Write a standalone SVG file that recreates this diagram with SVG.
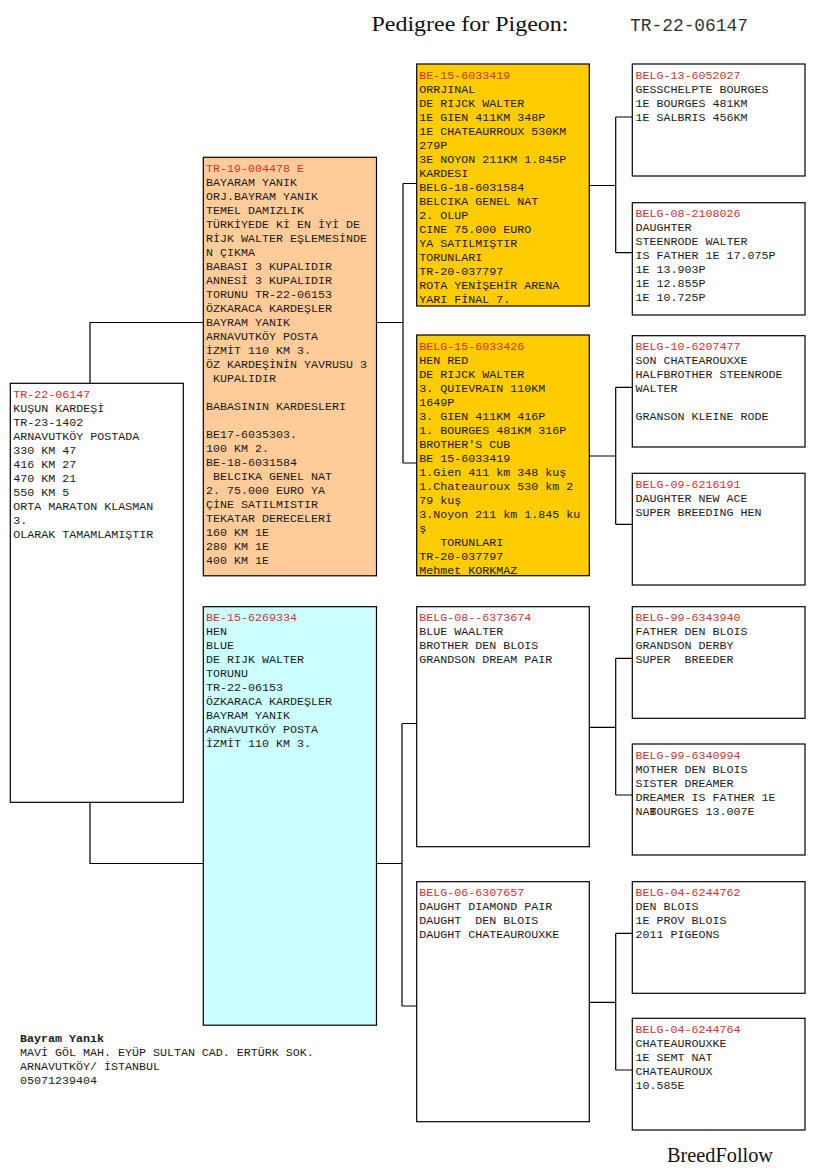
<svg xmlns="http://www.w3.org/2000/svg" width="825" height="1172" viewBox="0 0 825 1172">
<style>
.box{stroke:#000;stroke-width:1.2;}
.w{fill:#fff}.o{fill:#FFCC99}.g{fill:#FFCC00}.c{fill:#CCFFFF}
text.t{font-family:"Liberation Mono","Courier New",monospace;font-size:11.67px;fill:#1a1a1a;white-space:pre}
.id{fill:#CC3333}
.ln{fill:none;stroke:#000;stroke-width:1.2}
.serif{font-family:"Liberation Serif","Times New Roman",serif;fill:#111}
</style>
<rect width="825" height="1172" fill="#fff"/>
<text class="serif" x="371.5" y="31" font-size="22" textLength="197" lengthAdjust="spacingAndGlyphs">Pedigree for Pigeon:</text>
<text x="630" y="31" font-family="Liberation Mono, Courier New, monospace" font-size="18" fill="#333" textLength="118" lengthAdjust="spacingAndGlyphs">TR-22-06147</text>

<g id="connectors">
<path class="ln" d="M90,383V322.5H203.5M90,802V863.5H203.5"/>
<path class="ln" d="M376.5,322.5H403M403,183.5V463M403,183.5H416.7M403,463H416.7"/>
<path class="ln" d="M376.5,863.5H402M402,723.5V1006M402,723.5H416.7M402,1006H416.7"/>
<path class="ln" d="M589.3,185.5H615.7M615.7,117V252.7M615.7,117H632.3M615.7,252.7H632.3"/>
<path class="ln" d="M589.3,456H615.7M615.7,387.3V524.3M615.7,387.3H632.3M615.7,524.3H632.3"/>
<path class="ln" d="M589.3,727.3H615.7M615.7,658.3V795M615.7,658.3H632.3M615.7,795H632.3"/>
<path class="ln" d="M589.3,1002.3H615.7M615.7,933.3V1070M615.7,933.3H632.3M615.7,1070H632.3"/>
</g>

<g id="n1">
<rect class="box w" x="10.3" y="383.3" width="173" height="419"/>
<text class="t" x="13.3" y="398"><tspan class="id">TR-22-06147</tspan><tspan x="13.3" dy="14">KUŞUN KARDEŞİ</tspan><tspan x="13.3" dy="14">TR-23-1402</tspan><tspan x="13.3" dy="14">ARNAVUTKÖY POSTADA</tspan><tspan x="13.3" dy="14">330 KM 47</tspan><tspan x="13.3" dy="14">416 KM 27</tspan><tspan x="13.3" dy="14">470 KM 21</tspan><tspan x="13.3" dy="14">550 KM 5</tspan><tspan x="13.3" dy="14">ORTA MARATON KLASMAN</tspan><tspan x="13.3" dy="14">3.</tspan><tspan x="13.3" dy="14">OLARAK TAMAMLAMIŞTIR</tspan></text>
</g>

<g id="n2">
<rect class="box o" x="203.3" y="157.3" width="173.2" height="418.5"/>
<text class="t" x="206" y="171.5"><tspan class="id">TR-19-004478 E</tspan><tspan x="206" dy="14">BAYARAM YANIK</tspan><tspan x="206" dy="14">ORJ.BAYRAM YANIK</tspan><tspan x="206" dy="14">TEMEL DAMIZLIK</tspan><tspan x="206" dy="14">TÜRKİYEDE Kİ EN İYİ DE</tspan><tspan x="206" dy="14">RİJK WALTER EŞLEMESİNDE</tspan><tspan x="206" dy="14">N ÇIKMA</tspan><tspan x="206" dy="14">BABASI 3 KUPALIDIR</tspan><tspan x="206" dy="14">ANNESİ 3 KUPALIDIR</tspan><tspan x="206" dy="14">TORUNU TR-22-06153</tspan><tspan x="206" dy="14">ÖZKARACA KARDEŞLER</tspan><tspan x="206" dy="14">BAYRAM YANIK</tspan><tspan x="206" dy="14">ARNAVUTKÖY POSTA</tspan><tspan x="206" dy="14">İZMİT 110 KM 3.</tspan><tspan x="206" dy="14">ÖZ KARDEŞİNİN YAVRUSU 3</tspan><tspan x="206" dy="14"> KUPALIDIR</tspan><tspan x="206" dy="28">BABASININ KARDESLERI</tspan><tspan x="206" dy="28">BE17-6035303.</tspan><tspan x="206" dy="14">100 KM 2.</tspan><tspan x="206" dy="14">BE-18-6031584</tspan><tspan x="206" dy="14"> BELCIKA GENEL NAT</tspan><tspan x="206" dy="14">2. 75.000 EURO YA</tspan><tspan x="206" dy="14">ÇİNE SATILMISTIR</tspan><tspan x="206" dy="14">TEKATAR DERECELERİ</tspan><tspan x="206" dy="14">160 KM 1E</tspan><tspan x="206" dy="14">280 KM 1E</tspan><tspan x="206" dy="14">400 KM 1E</tspan></text>
</g>

<g id="n3">
<rect class="box c" x="203.3" y="606.7" width="173.2" height="418.5"/>
<text class="t" x="206" y="621"><tspan class="id">BE-15-6269334</tspan><tspan x="206" dy="14">HEN</tspan><tspan x="206" dy="14">BLUE</tspan><tspan x="206" dy="14">DE RIJK WALTER</tspan><tspan x="206" dy="14">TORUNU</tspan><tspan x="206" dy="14">TR-22-06153</tspan><tspan x="206" dy="14">ÖZKARACA KARDEŞLER</tspan><tspan x="206" dy="14">BAYRAM YANIK</tspan><tspan x="206" dy="14">ARNAVUTKÖY POSTA</tspan><tspan x="206" dy="14">İZMİT 110 KM 3.</tspan></text>
</g>

<g id="n4">
<rect class="box g" x="416.7" y="64" width="172.6" height="242"/>
<text class="t" x="419.3" y="78.5"><tspan class="id">BE-15-6033419</tspan><tspan x="419.3" dy="14">ORRJINAL</tspan><tspan x="419.3" dy="14">DE RIJCK WALTER</tspan><tspan x="419.3" dy="14">1E GIEN 411KM 348P</tspan><tspan x="419.3" dy="14">1E CHATEAURROUX 530KM</tspan><tspan x="419.3" dy="14">279P</tspan><tspan x="419.3" dy="14">3E NOYON 211KM 1.845P</tspan><tspan x="419.3" dy="14">KARDESI</tspan><tspan x="419.3" dy="14">BELG-18-6031584</tspan><tspan x="419.3" dy="14">BELCIKA GENEL NAT</tspan><tspan x="419.3" dy="14">2. OLUP</tspan><tspan x="419.3" dy="14">CINE 75.000 EURO</tspan><tspan x="419.3" dy="14">YA SATILMIŞTIR</tspan><tspan x="419.3" dy="14">TORUNLARI</tspan><tspan x="419.3" dy="14">TR-20-037797</tspan><tspan x="419.3" dy="14">ROTA YENİŞEHİR ARENA</tspan><tspan x="419.3" dy="14">YARI FİNAL 7.</tspan></text>
</g>

<g id="n5">
<rect class="box g" x="416.7" y="335" width="172.6" height="240.7"/>
<text class="t" x="419.3" y="349.5"><tspan class="id">BELG-15-6033426</tspan><tspan x="419.3" dy="14">HEN RED</tspan><tspan x="419.3" dy="14">DE RIJCK WALTER</tspan><tspan x="419.3" dy="14">3. QUIEVRAIN 110KM</tspan><tspan x="419.3" dy="14">1649P</tspan><tspan x="419.3" dy="14">3. GIEN 411KM 416P</tspan><tspan x="419.3" dy="14">1. BOURGES 481KM 316P</tspan><tspan x="419.3" dy="14">BROTHER'S CUB</tspan><tspan x="419.3" dy="14">BE 15-6033419</tspan><tspan x="419.3" dy="14">1.Gien 411 km 348 kuş</tspan><tspan x="419.3" dy="14">1.Chateauroux 530 km 2</tspan><tspan x="419.3" dy="14">79 kuş</tspan><tspan x="419.3" dy="14">3.Noyon 211 km 1.845 ku</tspan><tspan x="419.3" dy="14">ş</tspan><tspan x="419.3" dy="14">   TORUNLARI</tspan><tspan x="419.3" dy="14">TR-20-037797</tspan><tspan x="419.3" dy="14">Mehmet KORKMAZ</tspan></text>
</g>

<g id="n6">
<rect class="box w" x="416.7" y="606.7" width="172.6" height="240"/>
<text class="t" x="419.3" y="621"><tspan class="id">BELG-08--6373674</tspan><tspan x="419.3" dy="14">BLUE WAALTER</tspan><tspan x="419.3" dy="14">BROTHER DEN BLOIS</tspan><tspan x="419.3" dy="14">GRANDSON DREAM PAIR</tspan></text>
</g>

<g id="n7">
<rect class="box w" x="416.7" y="881.7" width="172.6" height="240"/>
<text class="t" x="419.3" y="896"><tspan class="id">BELG-06-6307657</tspan><tspan x="419.3" dy="14">DAUGHT DIAMOND PAIR</tspan><tspan x="419.3" dy="14">DAUGHT  DEN BLOIS</tspan><tspan x="419.3" dy="14">DAUGHT CHATEAUROUXKE</tspan></text>
</g>

<g id="n8">
<rect class="box w" x="632.3" y="64" width="172.7" height="112"/>
<text class="t" x="635.5" y="78.5"><tspan class="id">BELG-13-6052027</tspan><tspan x="635.5" dy="14">GESSCHELPTE BOURGES</tspan><tspan x="635.5" dy="14">1E BOURGES 481KM</tspan><tspan x="635.5" dy="14">1E SALBRIS 456KM</tspan></text>
</g>

<g id="n9">
<rect class="box w" x="632.3" y="202.7" width="172.7" height="112.3"/>
<text class="t" x="635.5" y="217.2"><tspan class="id">BELG-08-2108026</tspan><tspan x="635.5" dy="14">DAUGHTER</tspan><tspan x="635.5" dy="14">STEENRODE WALTER</tspan><tspan x="635.5" dy="14">IS FATHER 1E 17.075P</tspan><tspan x="635.5" dy="14">1E 13.903P</tspan><tspan x="635.5" dy="14">1E 12.855P</tspan><tspan x="635.5" dy="14">1E 10.725P</tspan></text>
</g>

<g id="n10">
<rect class="box w" x="632.3" y="335.7" width="172.7" height="111.3"/>
<text class="t" x="635.5" y="350.2"><tspan class="id">BELG-10-6207477</tspan><tspan x="635.5" dy="14">SON CHATEAROUXXE</tspan><tspan x="635.5" dy="14">HALFBROTHER STEENRODE</tspan><tspan x="635.5" dy="14">WALTER</tspan><tspan x="635.5" dy="28">GRANSON KLEINE RODE</tspan></text>
</g>

<g id="n11">
<rect class="box w" x="632.3" y="473.3" width="172.7" height="111.7"/>
<text class="t" x="635.5" y="487.8"><tspan class="id">BELG-09-6216191</tspan><tspan x="635.5" dy="14">DAUGHTER NEW ACE</tspan><tspan x="635.5" dy="14">SUPER BREEDING HEN</tspan></text>
</g>

<g id="n12">
<rect class="box w" x="632.3" y="606.7" width="172.7" height="111.6"/>
<text class="t" x="635.5" y="621.2"><tspan class="id">BELG-99-6343940</tspan><tspan x="635.5" dy="14">FATHER DEN BLOIS</tspan><tspan x="635.5" dy="14">GRANDSON DERBY</tspan><tspan x="635.5" dy="14">SUPER  BREEDER</tspan></text>
</g>

<g id="n13">
<rect class="box w" x="632.3" y="744" width="172.7" height="111"/>
<text class="t" x="635.5" y="758.5"><tspan class="id">BELG-99-6340994</tspan><tspan x="635.5" dy="14">MOTHER DEN BLOIS</tspan><tspan x="635.5" dy="14">SISTER DREAMER</tspan><tspan x="635.5" dy="14">DREAMER IS FATHER 1E</tspan><tspan x="635.5" dy="14">NAT</tspan><tspan dx="-7">BOURGES 13.007E</tspan></text>
</g>

<g id="n14">
<rect class="box w" x="632.3" y="881.7" width="172.7" height="111.6"/>
<text class="t" x="635.5" y="896.2"><tspan class="id">BELG-04-6244762</tspan><tspan x="635.5" dy="14">DEN BLOIS</tspan><tspan x="635.5" dy="14">1E PROV BLOIS</tspan><tspan x="635.5" dy="14">2011 PIGEONS</tspan></text>
</g>

<g id="n15">
<rect class="box w" x="632.3" y="1018.3" width="172.7" height="111.7"/>
<text class="t" x="635.5" y="1032.8"><tspan class="id">BELG-04-6244764</tspan><tspan x="635.5" dy="14">CHATEAUROUXKE</tspan><tspan x="635.5" dy="14">1E SEMT NAT</tspan><tspan x="635.5" dy="14">CHATEAUROUX</tspan><tspan x="635.5" dy="14">10.585E</tspan></text>
</g>

<g id="footer">
<text class="t" x="20" y="1041.5" font-weight="bold">Bayram Yanık</text>
<text class="t" x="20" y="1055.5">MAVİ GÖL MAH. EYÜP SULTAN CAD. ERTÜRK SOK.</text>
<text class="t" x="20" y="1069.5">ARNAVUTKÖY/ İSTANBUL</text>
<text class="t" x="20" y="1083.5">05071239404</text>
</g>
<text class="serif" x="667" y="1161.5" font-size="20" textLength="106" lengthAdjust="spacingAndGlyphs">BreedFollow</text>
</svg>
